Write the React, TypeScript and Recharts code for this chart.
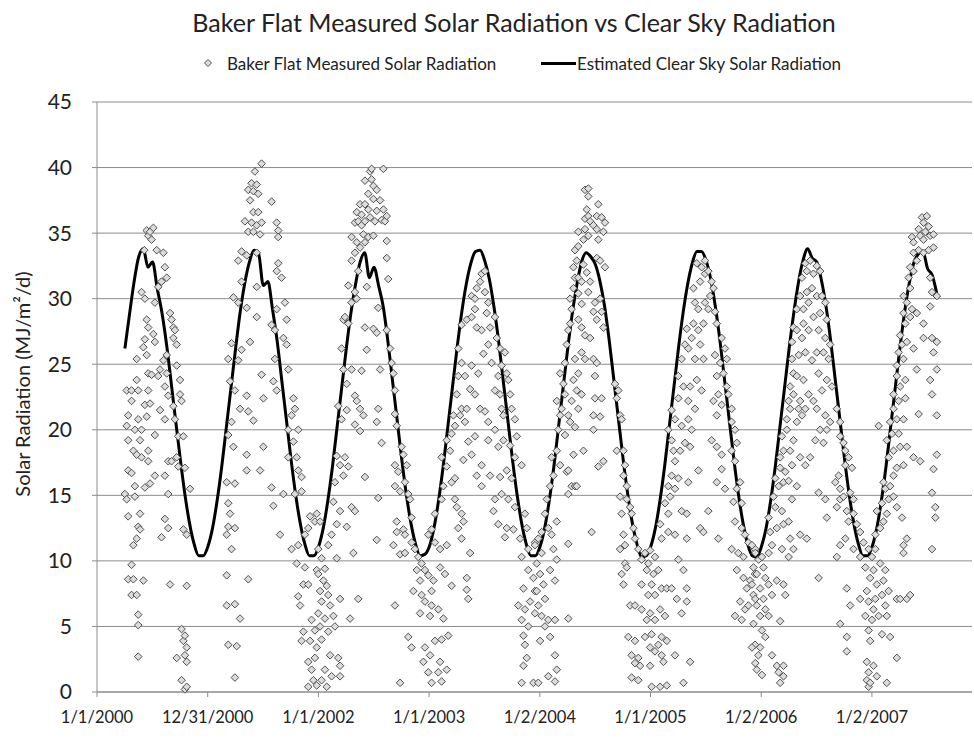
import { ComposedChart, Scatter, Line, XAxis, YAxis, CartesianGrid } from 'recharts';

// x values are days since 1/1/2000
const tickDays = [0, 365.25, 730.5, 1095.75, 1461, 1826.25, 2191.5, 2556.75];
const tickLabels = ['1/1/2000', '12/31/2000', '1/1/2002', '1/1/2003', '1/2/2004', '1/1/2005', '1/2/2006', '1/2/2007'];
const yTicks = [0, 5, 10, 15, 20, 25, 30, 35, 40, 45];

// estimated clear sky radiation, one value every half month from 1 Apr 2000
const clearSkyStart = 92;
const clearSkyStep = 15.22;
const cs2000 = [26.2, 28.8, 31.3, 33.2, 33.8, 32.4, 32.8, 30.8, 29.0, 26.6, 23.7, 20.7, 17.8, 15.1, 12.9, 11.3, 10.4, 10.4, 11.1, 12.5, 14.6, 17.2, 20.2, 23.2];
const cs2001 = [26.2, 29.0, 31.2, 32.8, 33.7, 33.4, 31.0, 31.3, 29.2, 26.8, 23.8, 20.8, 17.8, 15.1, 12.9, 11.3, 10.4, 10.4, 11.1, 12.5, 14.6, 17.2, 20.2, 23.2];
const cs2002 = [26.2, 28.9, 31.1, 32.8, 33.5, 31.6, 32.4, 31.0, 29.4, 26.8, 23.8, 20.8, 17.8, 15.1, 12.9, 11.3, 10.4, 10.5, 11.1, 12.5, 14.6, 17.2, 20.2, 23.2];
const cs2003 = [26.2, 28.9, 31.1, 32.7, 33.6, 33.7, 32.9, 31.5, 29.4, 26.8, 23.8, 20.8, 17.8, 15.1, 12.9, 11.3, 10.4, 10.4, 11.1, 12.5, 14.6, 17.2, 20.2, 23.2];
const cs2004 = [26.2, 28.9, 31.1, 32.8, 33.5, 33.2, 32.6, 31.3, 29.4, 26.8, 23.8, 20.8, 17.8, 15.1, 12.9, 11.3, 10.3, 10.4, 11.1, 12.5, 14.6, 17.2, 20.2, 23.2];
const cs2005 = [26.2, 28.9, 31.1, 32.7, 33.6, 33.6, 32.9, 31.5, 29.4, 26.8, 23.8, 20.8, 17.8, 15.1, 12.9, 11.3, 10.4, 10.3, 11.1, 12.5, 14.6, 17.2, 20.2, 23.2];
const cs2006 = [26.2, 28.9, 31.2, 32.9, 33.8, 33.1, 32.8, 31.4, 29.4, 26.8, 23.8, 20.8, 17.8, 15.1, 12.9, 11.3, 10.4, 10.4, 11.1, 12.5, 14.6, 17.2, 20.2, 23.2];
const cs2007 = [26.2, 28.9, 31.1, 32.7, 33.4, 33.6, 32.3, 31.8, 30.4];

// measured daily radiation, [day, MJ/m2/d]
const m2000 = [[92,15.1],[98,23.0],[98,20.3],[98,14.7],[103,21.1],[103,19.2],[103,16.9],[103,13.4],[103,8.6],[114,23.0],[114,22.2],[114,16.7],[114,9.7],[114,7.4],[120,18.4],[120,11.2],[120,8.6],[125,20.0],[125,15.7],[125,14.9],[131,25.4],[131,23.8],[131,18.1],[131,11.7],[131,7.4],[136,23.0],[136,20.8],[136,12.6],[136,5.9],[136,5.1],[136,2.7],[142,19.2],[142,13.6],[142,12.4],[147,30.5],[147,20.0],[147,17.9],[153,26.3],[153,8.5],[156,33.7],[158,30.0],[158,26.9],[158,21.9],[158,15.6],[164,35.2],[164,28.4],[164,25.7],[164,21.0],[169,34.8],[169,27.8],[169,24.3],[169,23.0],[169,18.4],[169,17.6],[175,35.1],[175,22.0],[175,15.9],[180,34.5],[180,24.2],[186,35.4],[186,27.3],[191,29.7],[191,26.7],[191,19.6],[191,16.5],[197,33.7],[202,30.9],[202,24.1],[208,24.6],[208,21.5],[213,31.3],[213,11.8],[219,33.5],[219,25.3],[224,32.4],[224,23.3],[224,20.8],[224,16.5],[224,13.2],[230,31.6],[230,25.7],[230,24.3],[235,22.6],[235,17.6],[235,15.1],[235,12.5],[241,28.9],[241,8.2],[246,28.4],[246,17.6],[252,27.8],[252,27.0],[252,21.8],[257,27.6],[257,20.8],[263,26.5],[263,24.9],[263,17.9],[263,2.6],[268,19.5],[268,17.2],[274,23.8],[274,22.7],[279,22.2],[279,4.8],[279,0.9],[285,19.5],[285,12.4],[285,3.9],[290,17.1],[290,4.3],[290,2.8],[290,0.2],[296,12.0],[296,8.1],[296,3.4],[296,2.3],[296,0.4],[307,15.5]];
const m2001 = [[428,16.0],[428,12.0],[428,8.9],[428,6.6],[433,25.4],[433,19.6],[433,14.4],[433,12.6],[433,3.6],[439,23.7],[439,13.6],[444,26.6],[444,20.6],[444,10.9],[450,30.1],[450,18.7],[455,23.0],[455,15.9],[455,12.5],[455,6.7],[455,1.1],[461,3.5],[466,32.9],[466,29.7],[466,25.3],[472,21.6],[472,5.6],[477,33.6],[477,31.3],[477,26.1],[488,35.9],[494,33.3],[494,29.3],[494,22.6],[494,18.1],[494,16.9],[499,38.3],[499,35.1],[499,21.4],[499,8.6],[505,37.5],[505,26.7],[510,38.8],[510,35.8],[516,38.2],[516,36.6],[516,35.1],[516,20.7],[521,39.7],[527,38.7],[527,35.6],[527,33.5],[527,30.9],[527,28.6],[532,38.0],[532,36.6],[538,34.9],[538,16.9],[543,40.3],[543,35.8],[543,24.2],[549,22.4],[549,18.7],[576,37.4],[576,28.0],[576,15.6],[582,23.7],[582,14.2],[587,27.6],[587,25.4],[593,35.8],[593,32.1],[593,29.2],[593,23.0],[598,35.2],[598,34.7],[598,32.7],[604,12.0],[609,31.6],[615,27.0],[615,15.1],[620,29.7],[626,28.4],[626,26.5],[631,24.6],[631,20.0],[631,17.9],[642,21.1],[642,10.9],[648,22.4],[648,19.1],[653,21.6],[653,15.1],[659,17.9],[659,9.8],[664,20.0],[664,16.9],[664,11.2],[664,7.3],[670,6.6],[675,16.4],[675,15.3],[675,3.9],[681,8.2],[681,4.6],[686,12.0],[686,9.5],[697,12.5],[697,8.2],[697,2.3],[697,0.4],[703,13.4],[703,3.9],[708,5.5],[708,1.7],[714,0.9],[719,13.0],[719,4.7],[719,2.6],[725,9.3],[725,0.5]];
const m2002 = [[725,13.6],[725,3.4],[730,10.9],[730,9.0],[730,6.0],[736,13.0],[736,7.7],[736,5.0],[741,10.2],[741,6.9],[741,4.0],[741,0.9],[747,8.5],[752,9.4],[752,5.6],[752,1.7],[758,8.1],[758,0.4],[763,11.2],[763,7.4],[763,4.6],[769,6.6],[769,2.8],[774,12.0],[774,1.2],[780,14.5],[780,5.8],[785,16.0],[785,5.0],[791,18.0],[791,12.8],[791,10.2],[796,21.8],[796,2.6],[802,17.3],[802,13.8],[802,7.1],[802,2.0],[802,1.2],[807,26.2],[807,20.8],[813,28.4],[813,24.6],[813,16.5],[818,28.6],[818,17.9],[824,23.5],[824,21.5],[824,12.6],[829,31.0],[829,28.1],[829,17.2],[835,5.6],[840,34.7],[840,32.9],[840,29.7],[840,24.6],[840,14.1],[846,10.6],[851,35.8],[851,33.5],[851,30.5],[851,22.6],[851,20.4],[851,13.8],[857,36.6],[857,34.3],[857,30.0],[857,22.2],[862,35.9],[862,32.1],[862,7.1],[868,37.2],[868,33.9],[868,21.6],[868,19.9],[873,36.4],[873,35.6],[873,24.5],[879,34.9],[879,21.1],[884,39.0],[884,37.2],[884,35.9],[884,34.3],[884,27.8],[884,16.4],[890,30.9],[890,26.1],[895,38.0],[895,36.8],[895,34.7],[901,39.7],[901,36.2],[906,39.9],[906,39.1],[912,38.6],[912,37.6],[912,34.8],[912,27.7],[917,35.9],[923,38.3],[923,36.7],[923,27.4],[923,20.6],[923,11.6],[928,29.3],[928,21.6],[928,14.8],[934,37.5],[934,24.6],[939,36.0],[939,19.0],[945,39.9],[945,36.8],[950,35.9],[956,36.3],[956,34.4],[956,33.1],[956,27.6],[961,31.5],[967,26.2],[972,25.1],[978,24.3],[978,11.2],[983,23.0],[983,21.2],[983,17.3],[983,15.7],[983,6.6],[989,20.3],[989,13.0],[989,12.2],[994,16.8],[1000,15.3],[1000,10.5],[1000,0.7],[1005,18.7],[1011,18.1],[1011,12.4],[1016,16.0],[1016,12.0],[1016,10.6],[1022,17.3],[1027,15.1],[1027,4.2],[1033,14.7],[1038,13.3],[1038,11.4],[1038,3.4],[1044,7.7],[1049,10.9],[1055,9.3],[1060,10.3],[1066,8.5],[1066,6.0],[1071,9.8],[1071,7.4],[1077,2.3],[1082,9.3],[1082,6.9],[1082,3.4],[1093,12.0],[1093,8.9],[1093,1.5]];
const m2003 = [[1099,5.8],[1099,2.8],[1104,12.4],[1104,7.7],[1104,6.6],[1104,0.7],[1110,8.5],[1115,13.6],[1115,11.4],[1115,3.9],[1126,6.3],[1126,1.5],[1132,10.9],[1132,9.5],[1132,2.3],[1137,17.9],[1137,14.7],[1137,4.0],[1137,0.8],[1143,15.7],[1143,5.6],[1148,9.0],[1154,19.2],[1154,17.2],[1154,11.2],[1154,1.7],[1159,4.3],[1165,18.4],[1170,19.7],[1170,16.0],[1170,8.1],[1176,21.1],[1181,20.3],[1181,16.3],[1181,14.7],[1187,22.7],[1187,14.1],[1192,26.2],[1192,24.1],[1192,12.5],[1198,21.1],[1203,28.0],[1203,25.1],[1203,21.6],[1203,13.6],[1203,11.7],[1209,17.7],[1209,13.0],[1214,24.1],[1214,20.6],[1220,28.4],[1220,21.6],[1220,8.7],[1220,7.8],[1225,19.1],[1225,7.1],[1231,23.1],[1231,10.6],[1236,30.2],[1236,28.6],[1236,24.9],[1236,18.1],[1247,30.0],[1247,29.2],[1247,22.7],[1247,19.5],[1253,30.8],[1253,27.8],[1253,16.5],[1258,24.3],[1264,31.3],[1264,21.6],[1269,31.9],[1269,27.6],[1269,17.3],[1269,15.7],[1275,25.8],[1280,32.1],[1280,30.5],[1280,21.4],[1286,28.9],[1291,29.7],[1291,26.5],[1291,20.6],[1291,19.2],[1297,27.8],[1297,16.5],[1302,25.1],[1308,13.8],[1313,28.6],[1313,23.0],[1313,20.0],[1313,14.7],[1319,27.0],[1324,24.1],[1324,18.7],[1324,12.8],[1330,26.2],[1330,22.7],[1330,16.4],[1335,24.9],[1335,21.6],[1335,15.1],[1341,21.1],[1341,19.2],[1346,25.9],[1346,11.8],[1352,24.3],[1352,16.9],[1352,12.5],[1357,23.8],[1357,14.7],[1363,22.7],[1363,18.8],[1368,21.6],[1368,16.3],[1374,12.4],[1379,20.8],[1379,17.9],[1379,14.1],[1385,19.5],[1390,6.6],[1396,11.7],[1401,17.3],[1401,10.3],[1401,5.5],[1401,0.7],[1407,7.9],[1407,4.3],[1407,2.0],[1412,13.6],[1412,6.3],[1412,3.6],[1418,12.5],[1418,2.6],[1423,10.9],[1423,9.3],[1423,5.0],[1429,6.9],[1440,8.7],[1440,0.7],[1445,11.4],[1445,7.7],[1445,6.0]];
const m2004 = [[1445,11.2],[1451,9.8],[1451,7.7],[1456,11.7],[1456,6.6],[1456,0.7],[1462,9.0],[1462,3.9],[1467,10.6],[1467,12.2],[1467,5.8],[1473,8.2],[1478,13.6],[1478,7.1],[1478,5.0],[1484,14.7],[1489,12.5],[1489,5.5],[1489,1.2],[1495,15.7],[1495,9.3],[1495,4.2],[1500,17.9],[1500,12.0],[1506,16.5],[1506,10.9],[1511,8.5],[1511,5.5],[1511,2.8],[1511,0.8],[1517,22.2],[1517,18.4],[1517,13.0],[1517,10.1],[1517,1.7],[1522,20.0],[1528,24.3],[1528,21.1],[1528,17.3],[1533,21.6],[1539,23.5],[1544,25.1],[1544,22.7],[1544,19.6],[1550,26.5],[1550,16.8],[1555,27.6],[1555,21.1],[1555,16.9],[1555,15.1],[1555,11.3],[1555,5.6],[1561,30.0],[1561,28.1],[1561,20.6],[1566,29.2],[1566,22.2],[1566,15.7],[1572,32.4],[1572,30.8],[1572,23.8],[1572,18.1],[1577,33.7],[1577,31.6],[1577,25.4],[1577,20.2],[1577,15.7],[1583,32.9],[1583,23.0],[1583,15.7],[1588,35.1],[1588,34.0],[1588,31.6],[1588,30.4],[1588,28.4],[1588,24.3],[1588,21.6],[1599,31.3],[1599,29.6],[1599,27.8],[1599,25.9],[1599,22.7],[1605,34.5],[1605,32.6],[1605,18.4],[1610,38.3],[1610,36.1],[1610,35.3],[1610,27.2],[1610,25.4],[1616,36.8],[1616,32.0],[1621,38.4],[1621,37.8],[1621,36.3],[1621,34.8],[1621,30.5],[1627,35.9],[1627,31.3],[1627,27.0],[1632,12.2],[1638,35.6],[1638,29.0],[1638,25.4],[1638,21.1],[1638,20.0],[1643,29.7],[1643,24.1],[1643,22.4],[1649,36.3],[1649,35.3],[1649,33.1],[1649,28.4],[1649,25.1],[1654,37.2],[1654,34.5],[1654,17.2],[1660,32.9],[1660,30.0],[1660,21.0],[1665,36.2],[1665,29.0],[1665,22.4],[1671,35.1],[1671,27.8],[1671,17.6],[1676,35.8],[1676,32.4],[1709,23.5],[1715,22.4],[1715,18.4],[1720,23.0],[1726,21.1],[1726,14.9],[1726,10.9],[1731,20.8],[1731,13.6],[1731,9.0],[1737,18.4],[1737,16.5],[1737,12.0],[1737,8.2],[1742,17.3],[1742,11.2],[1742,9.8],[1748,15.7],[1748,14.7],[1748,9.5],[1753,4.2],[1759,14.1],[1759,6.6],[1764,13.6],[1764,2.8],[1764,1.1],[1770,12.5],[1775,11.7],[1775,6.6],[1775,3.9],[1775,2.2],[1786,10.9],[1786,2.6],[1786,0.9],[1792,2.0],[1797,10.1],[1797,8.2],[1797,6.3],[1808,10.6],[1808,4.2],[1814,9.3],[1814,5.5],[1819,9.8],[1819,7.4],[1825,10.8],[1825,6.0],[1825,3.4],[1825,2.0]];
const m2005 = [[1830,8.2],[1830,4.4],[1830,0.4],[1836,9.0],[1841,10.3],[1841,7.4],[1841,5.5],[1841,3.1],[1852,9.3],[1852,3.6],[1858,12.8],[1858,6.3],[1858,0.4],[1863,11.7],[1863,7.9],[1863,4.2],[1863,2.8],[1869,2.3],[1874,14.4],[1874,5.8],[1880,7.9],[1880,3.9],[1880,0.5],[1885,20.0],[1885,15.7],[1885,13.6],[1885,12.2],[1891,14.9],[1896,21.5],[1896,19.2],[1896,16.5],[1896,7.9],[1902,18.4],[1907,20.8],[1907,17.6],[1907,15.5],[1907,12.0],[1907,2.8],[1913,7.1],[1918,24.1],[1918,22.4],[1918,16.3],[1918,10.1],[1924,18.4],[1929,25.4],[1929,20.3],[1929,13.8],[1929,6.0],[1935,23.3],[1935,9.3],[1935,0.7],[1940,26.5],[1940,19.0],[1946,27.7],[1946,13.6],[1946,11.7],[1946,7.9],[1946,6.9],[1951,26.2],[1951,22.2],[1951,20.8],[1951,16.0],[1957,23.3],[1957,18.7],[1957,2.3],[1962,27.0],[1962,20.0],[1968,30.8],[1968,28.1],[1973,29.7],[1973,25.4],[1973,21.6],[1979,32.7],[1979,23.8],[1984,29.2],[1984,27.6],[1984,16.9],[1990,31.3],[1990,26.5],[1990,12.5],[1995,32.4],[1995,23.0],[2001,28.1],[2001,25.4],[2001,12.2],[2006,32.9],[2006,31.9],[2006,29.7],[2017,32.1],[2017,29.2],[2017,13.8],[2023,30.2],[2028,31.3],[2028,19.2],[2034,30.8],[2034,22.2],[2039,29.0],[2039,25.7],[2045,28.1],[2045,24.1],[2045,21.1],[2045,18.7],[2045,16.0],[2050,22.7],[2050,11.7],[2056,25.1],[2061,27.0],[2061,21.9],[2061,18.1],[2061,17.0],[2067,24.3],[2072,26.2],[2072,15.5],[2078,25.4],[2078,23.3],[2083,22.7],[2094,21.6],[2094,20.6],[2094,18.4],[2094,10.9],[2100,14.5],[2105,20.0],[2105,17.6],[2105,13.0],[2105,5.8],[2111,19.0],[2111,15.5],[2111,9.3],[2116,10.6],[2122,16.0],[2122,6.9],[2127,14.4],[2127,12.5],[2127,5.5],[2133,10.3],[2133,8.7],[2138,12.0],[2138,6.3],[2144,7.9],[2149,11.4],[2149,6.6],[2155,8.5],[2166,7.4],[2171,10.9],[2171,9.0],[2171,3.6],[2177,1.7],[2182,2.8]];
const m2006 = [[2161,11.2],[2161,8.2],[2161,3.4],[2166,9.5],[2166,5.2],[2172,10.6],[2172,7.1],[2172,2.2],[2177,9.0],[2177,6.6],[2183,10.1],[2188,7.9],[2188,5.8],[2188,3.4],[2194,10.3],[2194,4.7],[2194,1.3],[2199,9.5],[2199,7.1],[2205,8.7],[2205,6.3],[2205,4.2],[2216,13.3],[2216,10.6],[2216,8.2],[2216,5.8],[2221,12.2],[2227,11.2],[2227,7.4],[2227,2.8],[2232,14.9],[2238,16.3],[2238,14.1],[2243,12.5],[2243,8.5],[2243,2.0],[2249,15.7],[2249,1.5],[2254,17.9],[2254,17.1],[2254,5.4],[2254,0.7],[2260,19.5],[2260,13.8],[2260,10.9],[2265,18.4],[2265,16.0],[2265,12.8],[2265,8.2],[2265,2.0],[2265,1.2],[2271,16.8],[2271,7.4],[2276,20.8],[2276,20.0],[2282,22.2],[2282,16.1],[2282,13.0],[2282,10.3],[2287,23.3],[2287,21.6],[2287,18.4],[2287,11.7],[2293,26.7],[2293,25.4],[2293,17.3],[2293,14.7],[2298,27.8],[2298,24.3],[2298,22.7],[2298,19.2],[2298,10.9],[2309,29.2],[2309,27.6],[2309,24.1],[2309,20.6],[2309,15.7],[2315,25.7],[2315,21.6],[2320,30.2],[2320,22.2],[2320,17.9],[2320,12.0],[2326,31.6],[2326,27.0],[2326,21.1],[2331,29.2],[2331,28.1],[2331,23.8],[2337,32.7],[2337,25.9],[2337,21.6],[2337,17.3],[2342,32.1],[2342,30.5],[2342,11.7],[2348,29.7],[2348,27.6],[2348,22.7],[2353,32.9],[2353,17.9],[2359,30.8],[2359,25.3],[2364,31.9],[2364,28.6],[2364,22.2],[2370,19.2],[2375,32.5],[2375,30.2],[2375,25.9],[2375,21.6],[2381,27.6],[2381,24.3],[2381,15.2],[2381,8.7],[2386,32.1],[2386,28.9],[2386,20.0],[2392,30.2],[2392,23.0],[2397,25.9],[2397,19.0],[2403,29.7],[2403,27.0],[2403,21.1],[2403,14.7],[2408,28.4],[2408,23.8],[2408,20.0],[2408,13.3],[2414,25.4],[2419,26.5],[2419,20.6],[2425,23.3],[2436,16.0],[2441,21.6],[2441,14.1],[2441,10.3],[2447,16.5],[2452,20.6],[2452,19.5],[2452,15.5],[2452,14.7],[2452,11.2],[2452,5.2],[2463,19.0],[2463,14.9],[2469,18.4],[2469,17.3],[2469,11.7],[2474,13.8],[2474,7.9],[2474,4.2],[2474,3.1],[2480,17.9],[2480,13.0],[2485,15.2],[2485,6.6],[2491,17.1],[2496,14.7],[2496,13.6],[2496,10.9],[2507,12.8],[2518,12.2],[2518,10.3],[2518,7.1]];
const m2007 = [[2529,11.4],[2535,9.5],[2535,5.8],[2540,7.7],[2540,2.3],[2540,0.9],[2546,10.9],[2546,6.9],[2546,4.7],[2546,1.5],[2546,0.4],[2551,8.7],[2551,3.9],[2551,0.7],[2557,10.3],[2557,5.5],[2562,9.3],[2562,6.3],[2562,2.0],[2568,12.0],[2568,10.9],[2568,7.1],[2573,13.8],[2573,8.2],[2573,1.2],[2579,20.3],[2579,5.8],[2584,12.5],[2584,9.8],[2590,14.4],[2590,7.4],[2590,4.4],[2595,16.0],[2595,13.0],[2595,8.5],[2601,15.5],[2601,9.3],[2601,6.6],[2606,19.2],[2606,13.6],[2606,5.8],[2606,0.7],[2612,17.9],[2612,14.7],[2612,7.7],[2617,20.6],[2617,15.7],[2617,4.2],[2623,19.7],[2628,22.7],[2628,21.6],[2628,18.4],[2628,16.5],[2628,14.9],[2639,24.9],[2639,24.1],[2639,20.8],[2639,17.1],[2639,14.1],[2639,7.1],[2639,2.6],[2645,25.9],[2645,22.2],[2645,19.7],[2650,27.2],[2650,23.3],[2650,18.7],[2650,7.1],[2656,26.5],[2656,13.3],[2661,30.2],[2661,28.9],[2661,25.4],[2661,20.8],[2661,17.3],[2661,11.2],[2661,10.6],[2667,28.1],[2667,23.8],[2667,22.4],[2672,29.7],[2672,26.7],[2672,18.7],[2672,11.7],[2672,7.1],[2678,31.6],[2683,32.4],[2683,30.8],[2683,28.6],[2683,7.4],[2689,34.7],[2689,29.2],[2694,34.3],[2694,33.5],[2694,32.1],[2694,26.2],[2694,17.9],[2705,32.9],[2705,28.9],[2705,24.6],[2711,35.3],[2711,33.7],[2711,21.2],[2716,34.8],[2716,17.6],[2722,36.2],[2727,35.8],[2727,34.5],[2727,33.5],[2727,28.1],[2727,27.0],[2733,35.1],[2738,36.3],[2744,35.5],[2744,33.7],[2749,34.8],[2749,31.6],[2749,29.4],[2749,23.8],[2755,30.5],[2755,27.0],[2755,22.7],[2755,15.2],[2755,10.9],[2760,34.9],[2760,33.9],[2760,25.9],[2760,17.0],[2766,14.1],[2766,13.3],[2771,30.2],[2771,26.7],[2771,24.6],[2771,21.1],[2771,18.1]];

const clearSkyData = [...cs2000, ...cs2001, ...cs2002, ...cs2003, ...cs2004, ...cs2005, ...cs2006, ...cs2007]
  .map((v, i) => ({ day: clearSkyStart + i * clearSkyStep, clear: v }));
const measuredData = [...m2000, ...m2001, ...m2002, ...m2003, ...m2004, ...m2005, ...m2006, ...m2007]
  .map(([day, v]) => ({ day, measured: v }));

const FONT = 'Lato, "Open Sans", sans-serif';

const diamondPath = (cx: number, cy: number, r: number) =>
  `M${cx},${cy - r}L${cx + r},${cy}L${cx},${cy + r}L${cx - r},${cy}Z`;

const Diamond = (props: any) => {
  const { cx, cy } = props;
  if (cx == null || cy == null) return null;
  return <path d={diamondPath(cx, cy, 3.8)} fill="#dcdcdc" stroke="#4f4f4f" strokeWidth={1} />;
};

export default function App() {
  return (
    <div style={{ position: 'absolute', left: 0, top: 0, width: 974, height: 740, background: '#fff', fontFamily: FONT, color: '#222' }}>
      <div style={{ position: 'absolute', left: 514, top: 22, transform: 'translate(-50%, -50%)', fontSize: 25, whiteSpace: 'nowrap' }}>
        Baker Flat Measured Solar Radiation vs Clear Sky Radiation
      </div>

      {/* legend */}
      <svg style={{ position: 'absolute', left: 203, top: 58 }} width={10} height={10}>
        <path d={diamondPath(5, 5, 3.5)} fill="#dcdcdc" stroke="#4f4f4f" strokeWidth={1} />
      </svg>
      <div style={{ position: 'absolute', left: 227, top: 63, transform: 'translateY(-50%)', fontSize: 17, whiteSpace: 'nowrap' }}>
        Baker Flat Measured Solar Radiation
      </div>
      <div style={{ position: 'absolute', left: 541, top: 61.5, width: 35, height: 3, background: '#000' }} />
      <div style={{ position: 'absolute', left: 577, top: 63, transform: 'translateY(-50%)', fontSize: 17, whiteSpace: 'nowrap' }}>
        Estimated Clear Sky Solar Radiation
      </div>

      <div style={{ position: 'absolute', left: 22, top: 384, transform: 'translate(-50%, -50%) rotate(-90deg)', fontSize: 20, whiteSpace: 'nowrap' }}>
        Solar Radiation (MJ/m²/d)
      </div>

      <ComposedChart width={974} height={740} margin={{ top: 102, right: 2, bottom: 0, left: 0 }}>
        <CartesianGrid vertical={false} stroke="#8c8c8c" />
        <XAxis
          type="number"
          dataKey="day"
          domain={[0, 2887]}
          ticks={tickDays}
          interval={0}
          tickFormatter={(v: number) => tickLabels[Math.round(v / 365.25)]}
          height={48}
          tickSize={5}
          tickMargin={14}
          stroke="#8c8c8c"
          tick={{ fill: '#222', fontSize: 16.5 }}
        />
        <YAxis
          type="number"
          domain={[0, 45]}
          ticks={yTicks}
          interval={0}
          width={97}
          tickSize={5}
          tickMargin={20}
          stroke="#8c8c8c"
          tick={{ fill: '#222', fontSize: 21 }}
        />
        <Scatter data={measuredData} dataKey="measured" shape={Diamond} isAnimationActive={false} />
        <Line
          data={clearSkyData}
          dataKey="clear"
          type="monotone"
          stroke="#000"
          strokeWidth={3}
          dot={false}
          isAnimationActive={false}
        />
      </ComposedChart>
    </div>
  );
}
